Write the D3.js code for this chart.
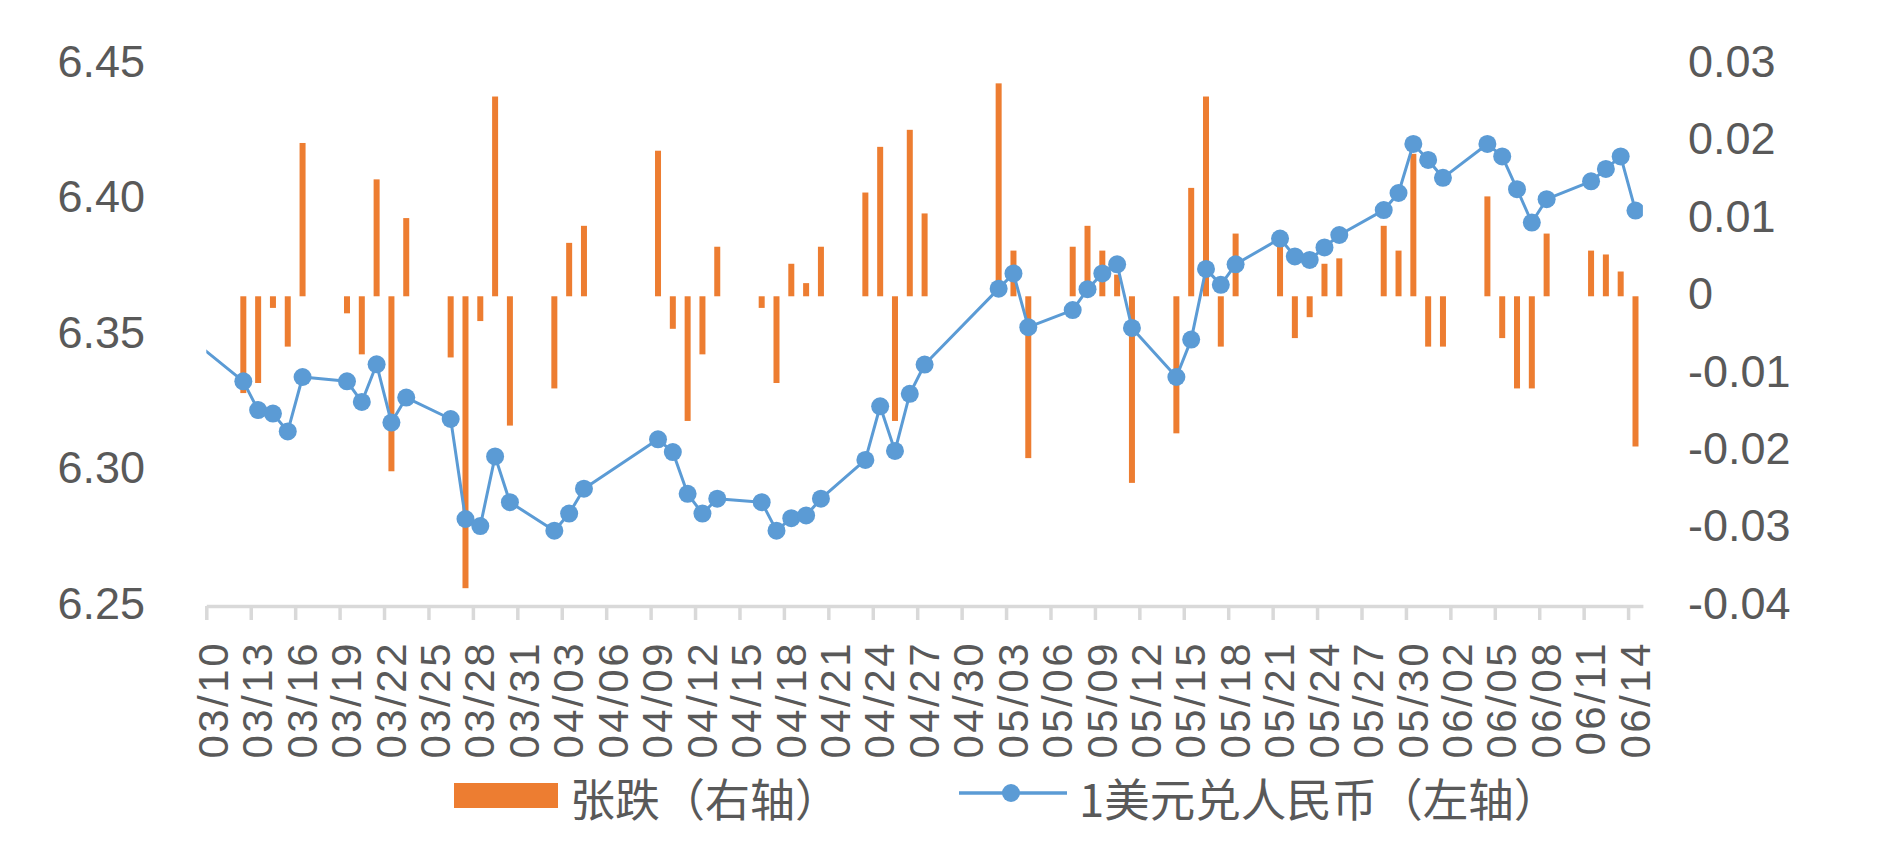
<!DOCTYPE html>
<html><head><meta charset="utf-8">
<script src="https://cdn.jsdelivr.net/npm/d3@7"></script>
<style>body{margin:0;background:#fff;} svg{display:block;}</style>
</head><body>
<svg id="chart" width="1879" height="846"></svg>
<script>
// ---- data ----
const lineDates = ["03/09","03/12","03/13","03/14","03/15","03/16","03/19","03/20","03/21","03/22","03/23",
  "03/26","03/27","03/28","03/29","03/30","04/02","04/03","04/04","04/09","04/10","04/11","04/12","04/13",
  "04/16","04/17","04/18","04/19","04/20","04/23","04/24","04/25","04/26","04/27","05/02","05/03","05/04",
  "05/07","05/08","05/09","05/10","05/11","05/14","05/15","05/16","05/17","05/18","05/21","05/22","05/23",
  "05/24","05/25","05/28","05/29","05/30","05/31","06/01","06/04","06/05","06/06","06/07","06/08","06/11",
  "06/12","06/13","06/14"];
const rates = [6.3462,6.3329,6.3223,6.3210,6.3144,6.3345,6.3329,6.3253,6.3392,6.3177,6.3269,
  6.3190,6.2821,6.2795,6.3052,6.2883,6.2778,6.2841,6.2933,6.3115,6.3068,6.2914,6.2841,6.2896,
  6.2883,6.2778,6.2824,6.2834,6.2896,6.3039,6.3237,6.3072,6.3283,6.3391,6.3671,6.3727,6.3529,
  6.3592,6.3669,6.3727,6.3761,6.3526,6.3345,6.3483,6.3744,6.3685,6.3761,6.3856,6.3790,6.3777,
  6.3823,6.3869,6.3961,6.4024,6.4205,6.4146,6.4080,6.4205,6.4159,6.4038,6.3915,6.4001,6.4067,
  6.4113,6.4159,6.3959];
const barDates = lineDates.slice(1);
const changes = [-0.0125,-0.0112,-0.0015,-0.0065,0.0198,-0.0022,-0.0075,0.0151,-0.0226,0.0101,
  -0.0079,-0.0377,-0.0032,0.0258,-0.0167,-0.0119,0.0069,0.0091,0.0188,-0.0042,-0.0161,-0.0075,0.0064,
  -0.0015,-0.0112,0.0042,0.0017,0.0064,0.0134,0.0193,-0.0161,0.0215,0.0107,0.0275,0.0059,-0.0209,
  0.0064,0.0091,0.0059,0.0028,-0.0241,-0.0177,0.0140,0.0258,-0.0065,0.0081,0.0085,-0.0054,-0.0027,
  0.0042,0.0049,0.0091,0.0059,0.0184,-0.0065,-0.0065,0.0129,-0.0054,-0.0119,-0.0119,0.0081,0.0059,
  0.0054,0.0032,-0.0194];
const tickLabels = ["03/10","03/13","03/16","03/19","03/22","03/25","03/28","03/31","04/03","04/06",
  "04/09","04/12","04/15","04/18","04/21","04/24","04/27","04/30","05/03","05/06","05/09","05/12",
  "05/15","05/18","05/21","05/24","05/27","05/30","06/02","06/05","06/08","06/11","06/14"];
const leftTicks = [6.25,6.30,6.35,6.40,6.45];
const rightTicks = [-0.04,-0.03,-0.02,-0.01,0,0.01,0.02,0.03];
const legendLabels = ["张跌（右轴）","1美元兑人民币（左轴）"];

// ---- layout ----
const plot = {left:206.3, right:1642.9, top:64, bottom:606};
const BAR = "#ED7D31", LINE = "#5B9BD5", TEXT = "#595959", AXIS = "#D9D9D9";
const NUMFONT = "'Liberation Sans', Arial, sans-serif";
const CJKFONT = "'Noto Sans CJK SC', 'Noto Sans', sans-serif";

const parse = d3.utcParse("%Y/%m/%d");
const toDate = s => parse("2018/" + s);
const DAY = 86400000;
const x = d3.scaleUtc()
  .domain([toDate("03/10"), new Date(toDate("06/14").getTime() + DAY)])
  .range([plot.left, plot.right]);
const xc = s => x(new Date(toDate(s).getTime() + DAY / 2));
const halfDay = (x(new Date(toDate("03/10").getTime() + DAY)) - x(toDate("03/10"))) / 2;
const yL = d3.scaleLinear().domain([6.25, 6.45]).range([plot.bottom, plot.top]);
const yR = d3.scaleLinear().domain([-0.04, 0.03]).range([plot.bottom, plot.top]);

const svg = d3.select("#chart");
svg.append("rect").attr("width", 1879).attr("height", 846).attr("fill", "#fff");

svg.append("clipPath").attr("id", "clip").append("rect")
  .attr("x", plot.left).attr("y", 0).attr("width", plot.right - plot.left).attr("height", 846);

// x axis
const xAxis = svg.append("g").attr("transform", `translate(0,${plot.bottom})`)
  .call(d3.axisBottom(x).tickValues(tickLabels.map(toDate)).tickSize(14).tickSizeOuter(0)
    .tickFormat((d, i) => tickLabels[i]));
xAxis.select(".domain").attr("stroke", AXIS).attr("stroke-width", 3.5);
xAxis.selectAll(".tick line").attr("stroke", AXIS).attr("stroke-width", 3.5);
xAxis.selectAll(".tick text")
  .attr("x", 0).attr("y", 0).attr("dy", "0.35em")
  .attr("transform", `translate(${halfDay - 1},35) rotate(-90)`)
  .attr("text-anchor", "end")
  .attr("fill", TEXT).style("font-family", NUMFONT).style("font-size", "42px")
  .style("letter-spacing", "2.5px");

// left axis
const lAxis = svg.append("g").attr("transform", "translate(145,-2)")
  .call(d3.axisLeft(yL).tickValues(leftTicks).tickSize(0).tickPadding(0).tickFormat(d => d.toFixed(2)));
lAxis.select(".domain").remove();
lAxis.selectAll("text").attr("fill", TEXT).style("font-family", NUMFONT).style("font-size", "45px");

// right axis
const rAxis = svg.append("g").attr("transform", "translate(1688,-2)")
  .call(d3.axisRight(yR).tickValues(rightTicks).tickSize(0).tickPadding(0)
    .tickFormat(d => d === 0 ? "0" : d.toFixed(2)));
rAxis.select(".domain").remove();
rAxis.selectAll("text").attr("fill", TEXT).style("font-family", NUMFONT).style("font-size", "45px");

// bars
const barW = 6;
svg.append("g").selectAll("rect").data(barDates.map((d, i) => ({d, v: changes[i]})))
  .join("rect")
  .attr("x", p => xc(p.d) - barW / 2)
  .attr("y", p => Math.min(yR(p.v), yR(0)))
  .attr("width", barW)
  .attr("height", p => Math.abs(yR(p.v) - yR(0)))
  .attr("fill", BAR);

// line
const pts = lineDates.map((d, i) => ({d, v: rates[i]}));
const lg = svg.append("g").attr("clip-path", "url(#clip)");
lg.append("path").datum(pts)
  .attr("d", d3.line().x(p => xc(p.d)).y(p => yL(p.v)))
  .attr("fill", "none").attr("stroke", LINE).attr("stroke-width", 3).attr("stroke-linejoin", "round");
lg.selectAll("circle").data(pts.filter(p => toDate(p.d) >= x.domain()[0]))
  .join("circle")
  .attr("cx", p => xc(p.d)).attr("cy", p => yL(p.v)).attr("r", 9).attr("fill", LINE);

// legend
const leg = svg.append("g");
leg.append("rect").attr("x", 454).attr("y", 783).attr("width", 104).attr("height", 25).attr("fill", BAR);
leg.append("text").attr("x", 570).attr("y", 797).attr("dominant-baseline", "central")
  .attr("fill", TEXT).style("font-family", CJKFONT).style("font-size", "45px").text(legendLabels[0]);
leg.append("line").attr("x1", 959).attr("x2", 1067).attr("y1", 793).attr("y2", 793)
  .attr("stroke", LINE).attr("stroke-width", 3.5);
leg.append("circle").attr("cx", 1011).attr("cy", 793).attr("r", 9).attr("fill", LINE);
leg.append("text").attr("x", 1079).attr("y", 797).attr("dominant-baseline", "central")
  .attr("fill", TEXT).style("font-family", CJKFONT).style("font-size", "45.5px").text(legendLabels[1]);
</script>
</body></html>
